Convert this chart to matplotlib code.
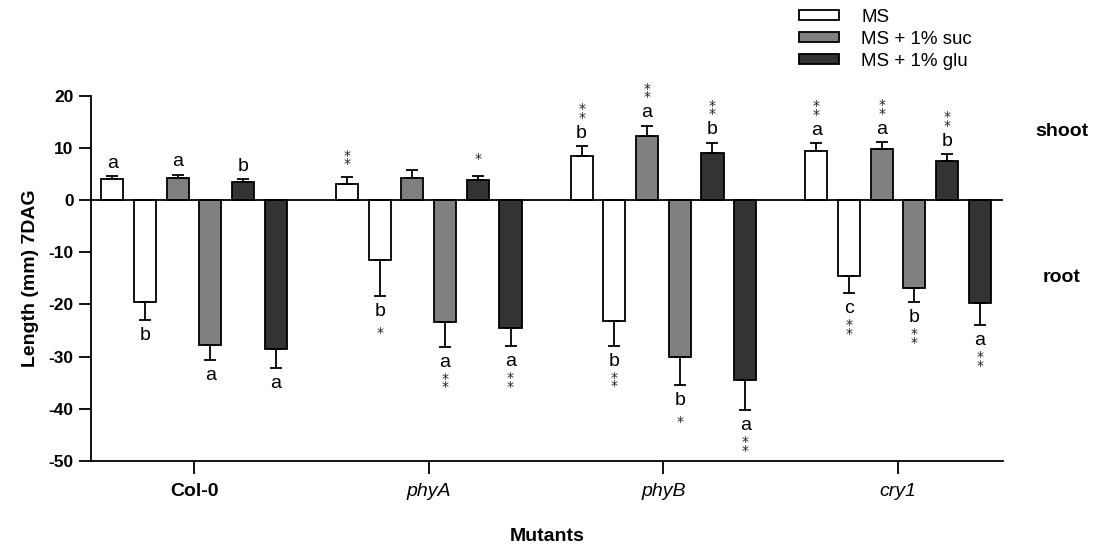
import numpy as np
import matplotlib
matplotlib.use('Agg')
import matplotlib.pyplot as plt
from matplotlib.patches import Patch

plt.rcParams['font.family'] = ['Liberation Sans', 'DejaVu Sans']
plt.rcParams['axes.unicode_minus'] = False

# Mean lengths (mm) at 7 DAG, shoot positive, root negative
groups = ['Col-0', 'phyA', 'phyB', 'cry1']
ms_shoot = [4.0, 3.1, 8.4, 9.4]
ms_shoot_err = [0.6, 1.3, 1.9, 1.5]
ms_root = [-19.6, -11.5, -23.1, -14.5]
ms_root_err = [3.3, 6.9, 4.8, 3.3]
suc_shoot = [4.3, 4.3, 12.3, 9.7]
suc_shoot_err = [0.6, 1.4, 1.9, 1.4]
suc_root = [-27.7, -23.4, -30.0, -16.8]
suc_root_err = [3.0, 4.7, 5.5, 2.7]
glu_shoot = [3.5, 3.8, 9.1, 7.5]
glu_shoot_err = [0.5, 0.8, 1.9, 1.3]
glu_root = [-28.6, -24.6, -34.5, -19.8]
glu_root_err = [3.5, 3.4, 5.7, 4.1]

# significance letters and stars
ms_shoot_let = ['a', '', 'b', 'a']
ms_shoot_star = ['', '**', '**', '**']
ms_root_let = ['b', 'b', 'b', 'c']
ms_root_star = ['', '*', '**', '**']
suc_shoot_let = ['a', '', 'a', 'a']
suc_shoot_star = ['', '', '**', '**']
suc_root_let = ['a', 'a', 'b', 'b']
suc_root_star = ['', '**', '*', '**']
glu_shoot_let = ['b', '', 'b', 'b']
glu_shoot_star = ['', '*', '**', '**']
glu_root_let = ['a', 'a', 'a', 'a']
glu_root_star = ['', '**', '**', '**']

colors = ['white', '#808080', '#333333']
labels = ['MS', 'MS + 1% suc', 'MS + 1% glu']

series = [
    (ms_shoot, ms_shoot_err, ms_shoot_let, ms_shoot_star, 0),
    (ms_root, ms_root_err, ms_root_let, ms_root_star, 0),
    (suc_shoot, suc_shoot_err, suc_shoot_let, suc_shoot_star, 1),
    (suc_root, suc_root_err, suc_root_let, suc_root_star, 1),
    (glu_shoot, glu_shoot_err, glu_shoot_let, glu_shoot_star, 2),
    (glu_root, glu_root_err, glu_root_let, glu_root_star, 2),
]

fig = plt.figure(figsize=(10.94, 5.46), dpi=100)
ax = fig.add_axes([0.0832, 0.1557, 0.8336, 0.669])

x = np.arange(len(groups))
step = 0.1394
width = 0.094

for i, (vals, errs, lets, stars, c) in enumerate(series):
    pos = x + (i - 2.5) * step
    vals = np.array(vals)
    errs = np.array(errs)
    ax.bar(pos, vals, width, color=colors[c], edgecolor='black', linewidth=1.3, zorder=2)
    lo = np.where(vals < 0, errs, 0)
    hi = np.where(vals > 0, errs, 0)
    ax.errorbar(pos, vals, yerr=[lo, hi], fmt='none', ecolor='black',
                elinewidth=1.3, capsize=4, capthick=1.3, zorder=3)
    for p, v, e, l, s in zip(pos, vals, errs, lets, stars):
        if v > 0:
            end = v + e
            if l:
                ax.text(p, end + 2.5, l, ha='center', va='center', fontsize=14)
                sy = end + 6.3
            else:
                sy = end + 3.3
        else:
            end = v - e
            ax.text(p, end - 3.0, l, ha='center', va='center', fontsize=14)
            sy = end - 7.0
        if s == '**':
            ax.text(p, sy, '*\n*', ha='center', va='center', fontsize=10,
                    linespacing=0.5, family='DejaVu Sans', color='#222222')
        elif s == '*':
            ax.text(p, sy, '*', ha='center', va='center', fontsize=10,
                    family='DejaVu Sans', color='#222222')

ax.axhline(0, color='black', linewidth=1.3, zorder=4)

ax.set_xlim(-0.439, 3.447)
ax.set_ylim(-50, 20)
ax.set_yticks(np.arange(-50, 21, 10))
ax.set_xticks(x)
ax.set_xticklabels(groups, fontsize=14)
for k, t in enumerate(ax.get_xticklabels()):
    if k == 0:
        t.set_fontweight('bold')
    else:
        t.set_fontstyle('italic')
for t in ax.get_yticklabels():
    t.set_fontweight('bold')
    t.set_fontsize(12.5)

for sp in ['top', 'right']:
    ax.spines[sp].set_visible(False)
for sp in ['left', 'bottom']:
    ax.spines[sp].set_linewidth(1.3)
ax.tick_params(axis='both', direction='out', length=9, width=1.3)
ax.tick_params(axis='x', pad=7)

ax.set_ylabel('Length (mm) 7DAG', fontsize=14, fontweight='bold', labelpad=7)
ax.set_xlabel('Mutants', fontsize=14, fontweight='bold', labelpad=20)

fig.text(1062 / 1094, 1 - 131 / 546, 'shoot', ha='center', va='center',
         fontsize=14, fontweight='bold')
fig.text(1062 / 1094, 1 - 277 / 546, 'root', ha='center', va='center',
         fontsize=14, fontweight='bold')

handles = [Patch(facecolor=colors[k], edgecolor='black', linewidth=1.3) for k in range(3)]
fig.legend(handles, labels, loc='upper left', bbox_to_anchor=(799 / 1094, 1 - 9 / 546),
           frameon=False, fontsize=13.5, handlelength=2.13, handleheight=0.45,
           labelspacing=0.26, handletextpad=1.2, borderpad=0, borderaxespad=0)

fig.savefig('out.png', dpi=100)
